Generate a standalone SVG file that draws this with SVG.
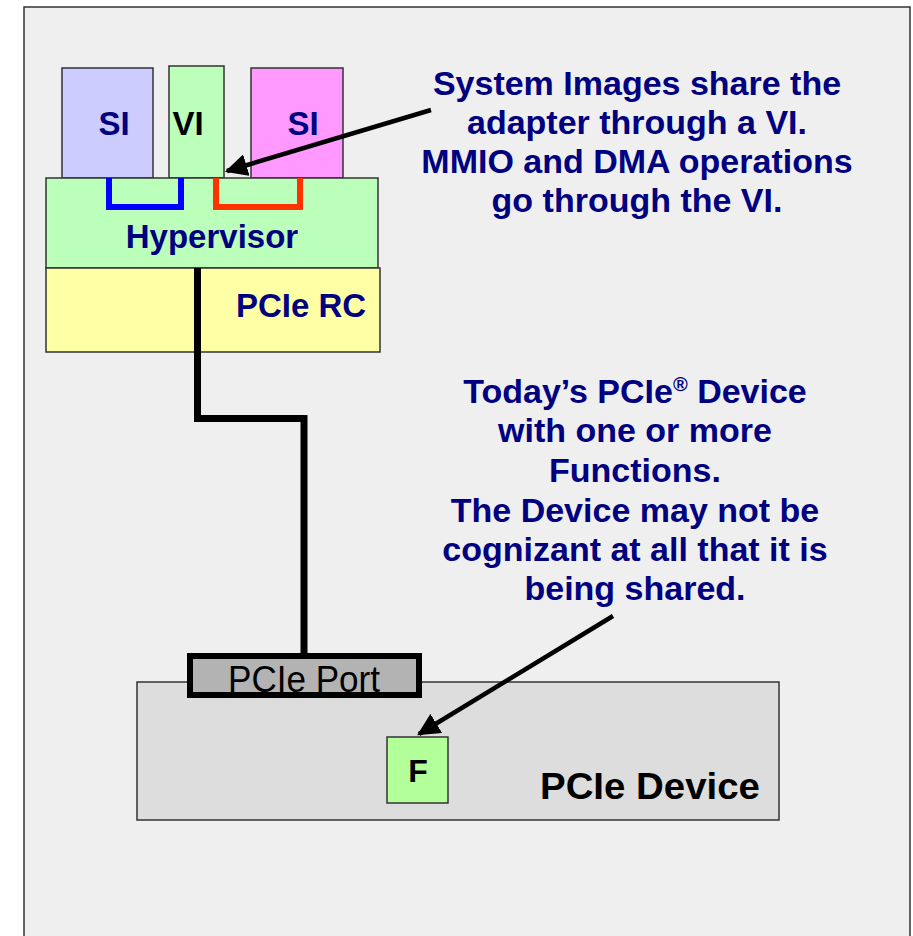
<svg xmlns="http://www.w3.org/2000/svg" width="913" height="936" viewBox="0 0 913 936">
  <defs>
    <style>
      .box { stroke: #333333; stroke-width: 1.5; }
      .lbl { font-family: "Liberation Sans", Arial, sans-serif; font-weight: bold; }
      .note { font-family: "Liberation Sans", Arial, sans-serif; font-weight: bold; font-size: 34px; fill: #000080; text-anchor: middle; }
      .wire { fill: none; stroke: #000000; stroke-width: 7; stroke-linejoin: miter; }
      .pointer { stroke: #000000; stroke-width: 4.5; fill: none; }
    </style>
    <marker id="arrowhead" viewBox="0 0 10 10" refX="9" refY="5" markerWidth="5" markerHeight="5" orient="auto" markerUnits="strokeWidth">
      <path d="M0,0 L10,5 L0,10 Z" fill="#000000"/>
    </marker>
  </defs>

  <!-- page -->
  <rect x="0" y="0" width="913" height="936" fill="#ffffff"/>
  <rect id="frame" x="24" y="7" width="886" height="940" fill="#efefef" stroke="#333333" stroke-width="1.5"/>

  <!-- host side -->
  <g id="si-left">
    <rect class="box" x="62" y="68" width="91" height="110" fill="#ccccff"/>
    <text class="lbl" x="114" y="135" font-size="33" fill="#000080" text-anchor="middle">SI</text>
  </g>
  <g id="vi">
    <rect class="box" x="169" y="66" width="55" height="112" fill="#bbffbb"/>
    <text class="lbl" x="188" y="135" font-size="33" fill="#000000" text-anchor="middle">VI</text>
  </g>
  <g id="si-right">
    <rect class="box" x="251" y="68" width="92" height="110" fill="#ff99ff"/>
    <text class="lbl" x="303" y="135" font-size="33" fill="#000080" text-anchor="middle">SI</text>
  </g>
  <g id="hypervisor">
    <rect class="box" x="46" y="178" width="332" height="90" fill="#bbffbb"/>
    <path d="M109,178 V207 H181 V178" fill="none" stroke="#0000ff" stroke-width="6"/>
    <path d="M216,178 V207 H300 V178" fill="none" stroke="#ff3300" stroke-width="6"/>
    <text class="lbl" x="212" y="248" font-size="33" fill="#000080" text-anchor="middle">Hypervisor</text>
  </g>
  <g id="pcie-rc">
    <rect class="box" x="46" y="268" width="334" height="84" fill="#ffffa6"/>
    <text class="lbl" x="301" y="317" font-size="33" fill="#000080" text-anchor="middle">PCIe RC</text>
  </g>

  <!-- device side -->
  <g id="pcie-device">
    <rect class="box" x="137" y="682" width="642" height="138" fill="#dddddd"/>
    <text class="lbl" x="540" y="799" font-size="37" fill="#000000" textLength="220" lengthAdjust="spacingAndGlyphs">PCIe Device</text>
  </g>
  <g id="pcie-port">
    <rect x="190" y="656" width="229" height="39" fill="#b3b3b3" stroke="#000000" stroke-width="6"/>
    <text x="228" y="692" font-family="Liberation Sans, Arial, sans-serif" font-size="37" fill="#000000" textLength="152" lengthAdjust="spacingAndGlyphs">PCIe Port</text>
  </g>
  <g id="function">
    <rect class="box" x="387" y="737" width="61" height="66" fill="#b3ff99"/>
    <text class="lbl" x="418" y="782" font-size="32" fill="#000000" text-anchor="middle">F</text>
  </g>

  <!-- notes -->
  <g id="note-vi">
    <text class="note" x="637" y="95">System Images share the</text>
    <text class="note" x="637" y="134">adapter through a VI.</text>
    <text class="note" x="637" y="173">MMIO and DMA operations</text>
    <text class="note" x="637" y="212">go through the VI.</text>
  </g>
  <g id="note-device">
    <text class="note" x="635" y="403">Today’s PCIe<tspan font-size="20" dy="-12">®</tspan><tspan dy="12"> Device</tspan></text>
    <text class="note" x="635" y="442">with one or more</text>
    <text class="note" x="635" y="482">Functions.</text>
    <text class="note" x="635" y="522">The Device may not be</text>
    <text class="note" x="635" y="561">cognizant at all that it is</text>
    <text class="note" x="635" y="600">being shared.</text>
  </g>

  <!-- connectors -->
  <g id="connectors">
    <path class="wire" d="M197.5,268 V418.5 H304 V656"/>
    <line class="pointer" x1="431" y1="110" x2="227" y2="171" marker-end="url(#arrowhead)"/>
    <line class="pointer" x1="613" y1="616" x2="419" y2="734" marker-end="url(#arrowhead)"/>
  </g>
</svg>
